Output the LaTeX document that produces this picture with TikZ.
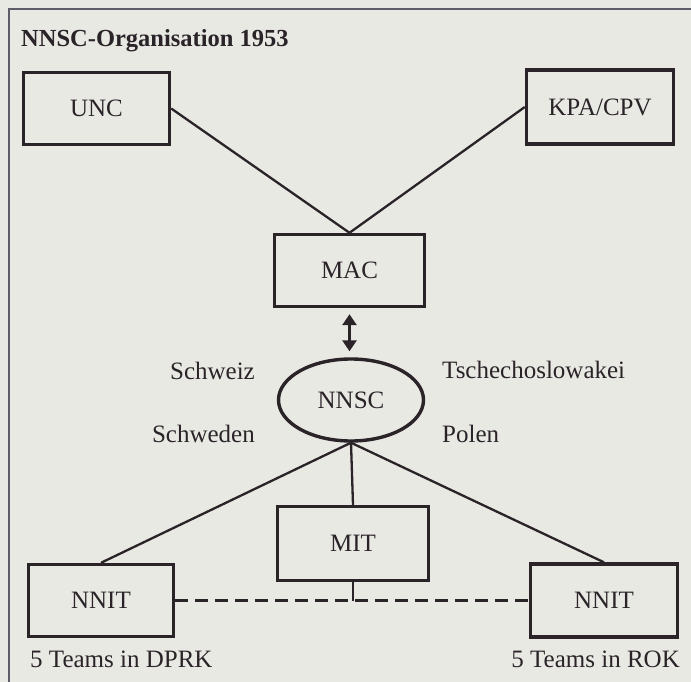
\documentclass[tikz,border=0pt]{standalone}
\usepackage{fontspec}
\setmainfont{Liberation Serif}
\usetikzlibrary{arrows.meta,shapes.geometric}
\definecolor{paper}{RGB}{233,233,228}
\definecolor{ink}{RGB}{42,35,40}
\definecolor{framec}{RGB}{95,92,105}
\tikzset{
  orgbox/.style={draw=ink, line width=3.4pt, rectangle, inner sep=0pt, text=ink, font=\fontsize{25}{28}\selectfont},
  orgell/.style={draw=ink, line width=3.4pt, ellipse, inner sep=0pt, text=ink, font=\fontsize{25}{28}\selectfont},
  conn/.style={draw=ink, line width=2.3pt},
  lbl/.style={inner sep=0pt, text=ink, font=\fontsize{25}{28}\selectfont},
}
\begin{document}
\begin{tikzpicture}[x=1pt,y=-1pt]
\useasboundingbox (0,0) rectangle (691,682);
\fill[paper] (0,0) rectangle (691,682);
% frame (right and bottom sides lie outside the picture)
\draw[framec, line width=1.5pt] (9,682) -- (9,9) -- (691,9);
% title
\node[lbl, anchor=base west, font=\bfseries\fontsize{24.5}{28}\selectfont] (title) at (21,47) {NNSC-Organisation 1953};
% boxes
\node[orgbox, minimum width=146pt, minimum height=72pt] (unc) at (96.5,108.5) {UNC};
\node[orgbox, minimum width=147pt, minimum height=74pt] (kpa) at (600,107) {KPA/CPV};
\node[orgbox, minimum width=150pt, minimum height=72pt] (mac) at (349.5,270.5) {MAC};
\node[orgell, minimum width=145pt, minimum height=82pt] (nnsc) at (351,400) {NNSC};
\node[orgbox, minimum width=151pt, minimum height=74pt] (mit) at (353,543.5) {MIT};
\node[orgbox, minimum width=145pt, minimum height=72pt] (nnitl) at (101,600.5) {NNIT};
\node[orgbox, minimum width=147pt, minimum height=73pt] (nnitr) at (604,600.5) {NNIT};
% labels
\node[lbl, anchor=base east] (schweiz) at (255,379) {Schweiz};
\node[lbl, anchor=base west] (tsch) at (442,378) {Tschechoslowakei};
\node[lbl, anchor=base east] (schweden) at (255,442) {Schweden};
\node[lbl, anchor=base west] (polen) at (442,442) {Polen};
\node[lbl, anchor=base west] (dprk) at (30,667) {5 Teams in DPRK};
\node[lbl, anchor=base east] (rok) at (680,667) {5 Teams in ROK};
% connectors
\draw[conn] (unc.east) -- (mac.north);
\draw[conn] (kpa.west) -- (mac.north);
\draw[conn, line width=2.8pt, {Triangle[width=14pt,length=11pt]}-{Triangle[width=14pt,length=11pt]}, shorten <=6pt, shorten >=6pt] (mac.south) -- (mac.south |- nnsc.north);
\draw[conn] (nnsc.south) -- (nnitl.north);
\draw[conn] (nnsc.south) -- (nnitr.north);
\draw[conn] (nnsc.south) -- (mit.north);
\coordinate (dashjoin) at (mit.south |- nnitl.east);
\draw[conn, line width=2.6pt, dash pattern=on 13pt off 7pt] (nnitl.east) -- (nnitr.west);
\draw[conn] (mit.south) -- (dashjoin);
\end{tikzpicture}
\end{document}
